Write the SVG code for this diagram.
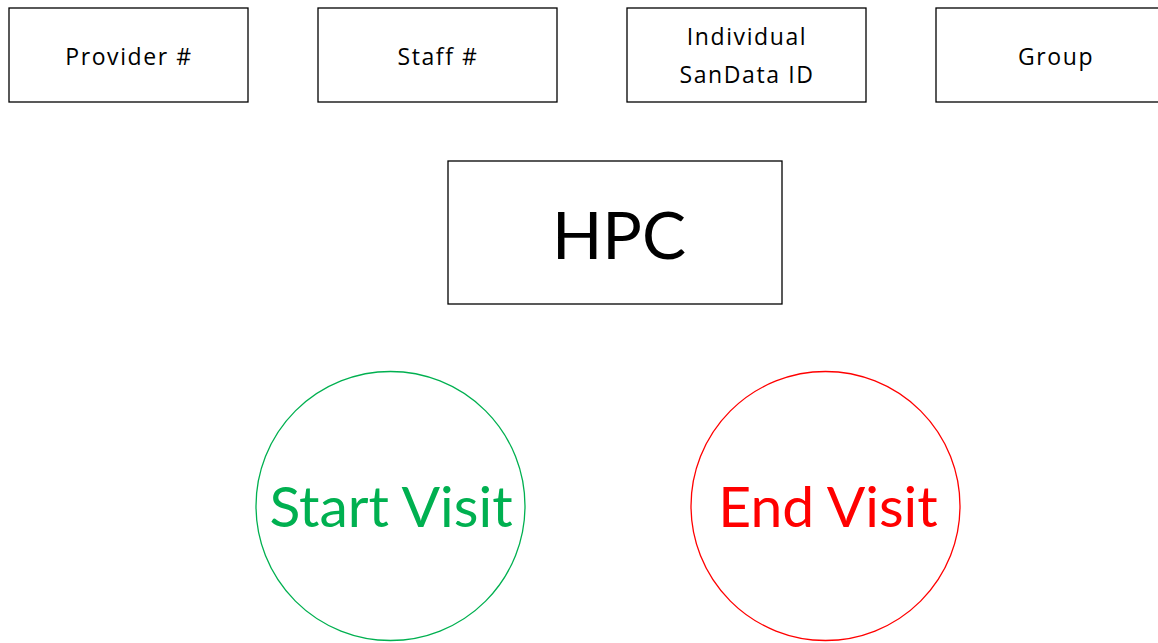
<svg xmlns="http://www.w3.org/2000/svg" width="1158" height="643" viewBox="0 0 1158 643">
  <style>
    .box { fill: #ffffff; stroke: #000000; stroke-width: 1.3; }
    .lbl { font-family: "Open Sans", "Noto Sans", sans-serif; font-size: 23px; letter-spacing: 1.6px; fill: #000000; text-anchor: middle; }
    .big { font-family: Lato, "Open Sans", sans-serif; text-anchor: middle; }
  </style>
  <rect width="1158" height="643" fill="#ffffff"/>

  <g id="provider">
    <rect class="box" x="9" y="8" width="239" height="94"/>
    <text class="lbl" x="129" y="65">Provider #</text>
  </g>
  <g id="staff">
    <rect class="box" x="318" y="8" width="239" height="94"/>
    <text class="lbl" x="438" y="65">Staff #</text>
  </g>
  <g id="individual">
    <rect class="box" x="627" y="8" width="239" height="94"/>
    <text class="lbl" x="747" y="45">Individual</text>
    <text class="lbl" x="747" y="83">SanData ID</text>
  </g>
  <g id="group">
    <rect class="box" x="936" y="8" width="239" height="94"/>
    <text class="lbl" x="1056" y="65">Group</text>
  </g>

  <g id="hpc">
    <rect class="box" x="448" y="161" width="334" height="143"/>
    <text class="big" x="619" y="259" font-size="66" fill="#000000">HPC</text>
  </g>

  <g id="start-visit">
    <circle cx="390.5" cy="506" r="134.5" fill="none" stroke="#00b050" stroke-width="1.3"/>
    <text class="big" x="391" y="527" font-size="57" fill="#00b050">Start Visit</text>
  </g>
  <g id="end-visit">
    <circle cx="825.5" cy="506" r="134.5" fill="none" stroke="#ff0000" stroke-width="1.3"/>
    <text class="big" x="828" y="527" font-size="57" fill="#ff0000">End Visit</text>
  </g>

  <g id="connectors"/>
</svg>
